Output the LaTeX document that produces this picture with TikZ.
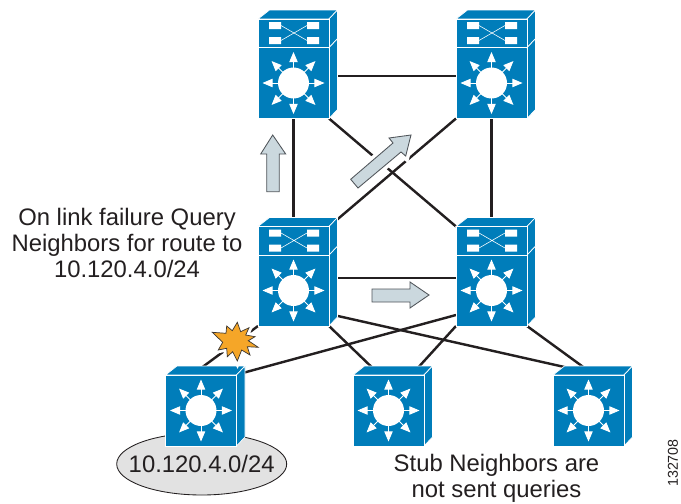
\documentclass[tikz,border=0pt]{standalone}
\usepackage{fontspec}
\setmainfont{Liberation Sans}
\usetikzlibrary{arrows,backgrounds,shapes.geometric}
\tikzset{
  blueface/.style={fill={rgb, 255:red, 0; green, 125; blue, 186 },draw=white,line width=0.5pt},
  frontbox/.style={blueface,rectangle,inner sep=0pt,outer sep=0pt,minimum width=49.7pt},
  iconarrow/.style={draw=white,line width=0.6pt,-triangle 45},
  linkline/.style={draw={rgb, 255:red, 35; green, 31; blue, 32 },line width=1.7pt},
  flowarrow/.style={draw={rgb, 255:red, 80; green, 85; blue, 90 },line width=0.6pt,fill={rgb, 255:red, 203; green, 216; blue, 222 }},
  halo/.style={preaction={draw=white,line width=5.6pt}},
  burst/.style={draw={rgb, 255:red, 60; green, 55; blue, 50 },line width=0.5pt,fill={rgb, 255:red, 245; green, 166; blue, 40 },preaction={draw=white,line width=4.5pt}},
  caption/.style={align=center,text={rgb, 255:red, 35; green, 31; blue, 32 },font=\fontsize{16.7}{18}\selectfont},
  every pic/.style={yscale=-1},
  pics/l3base/.style={code={
    %Top and side faces
    \draw [blueface] (-35.5,-35.5) -- (-24,-44.5) -- (44,-44.5) -- (35.5,-35.5) -- cycle ;
    \draw [blueface] (35.5,-35.5) -- (44,-44.5) -- (44,26.5) -- (35.5,35.5) -- cycle ;
    %Front face
    \node [frontbox,minimum height=49.7pt] (-base) at (0,0) {};
    \fill [white] (0,0) circle [radius=15.5];
    \foreach \ang in {0,45,...,315} \draw [iconarrow] (\ang:14) -- (\ang:31);
  }},
  pics/l3unit/.style={code={
    \draw [blueface] (-35.5,-64) -- (-24,-73) -- (44,-73) -- (35.5,-64) -- cycle ;
    \draw [blueface] (35.5,-64) -- (44,-73) -- (44,-44.5) -- (35.5,-35.5) -- cycle ;
    \node [frontbox,minimum height=19.95pt] (-unit) at (0,-49.75) {};
    \fill [white] (-24.5,-61) rectangle (-12.5,-54) (13.5,-61) rectangle (25.5,-54) (-24.5,-46) rectangle (-12.5,-39) (13.5,-46) rectangle (25.5,-39);
    \draw [white,line width=0.4pt] (-12.5,-57.5) -- (13.5,-42.5) (-12.5,-42.5) -- (13.5,-57.5);
  }}
}
\begin{document}
\begin{tikzpicture}[x=0.70pt,y=0.70pt,yscale=-1,xscale=1]
\useasboundingbox (0,0) rectangle (681,504);

%Shape: Ellipse
\node [ellipse,draw={rgb, 255:red, 35; green, 31; blue, 32 },line width=0.6pt,fill={rgb, 255:red, 226; green, 226; blue, 226 },inner sep=0pt,minimum width=119pt,minimum height=43.4pt] (subnet) at (201.7,464) {};
\node [caption] (subnetlabel) at (subnet) {10.120.4.0/24};

%Switches
\pic (swA) at (293.5,83) {l3base};
\pic (swA) at (293.5,83) {l3unit};
\pic (swB) at (491.5,83) {l3base};
\pic (swB) at (491.5,83) {l3unit};
\pic (swC) at (293.5,290.5) {l3base};
\pic (swC) at (293.5,290.5) {l3unit};
\pic (swD) at (491.5,290.5) {l3base};
\pic (swD) at (491.5,290.5) {l3unit};
\pic (swE) at (201,410.5) {l3base};
\pic (swF) at (388.5,410.5) {l3base};
\pic (swG) at (588.5,410.5) {l3base};

%Straight Lines
\begin{pgfonlayer}{background}
\draw [linkline] ([yshift=-4.9pt]swA-base.east) -- ([yshift=-4.9pt]swB-base.west) ;
\draw [linkline] (swA-base.south) -- (swC-unit.north) ;
\draw [linkline] (swB-base.south) -- (swD-unit.north) ;
\draw [linkline] (swA-base.south east) -- (swD-unit.north west) ;
\draw [linkline] (swB-base.south west) -- (swC-unit.north east) ;
\draw [linkline] ([yshift=-8.75pt]swC-base.east) -- ([yshift=-8.75pt]swD-base.west) ;
\draw [linkline] (swC-base.south west) -- ([xshift=-6.5pt]swE-base.north) ;
\draw [linkline] (swC-base.south east) -- ([xshift=-6pt]swF-base.north) ;
\draw [linkline] ([yshift=-8.4pt]swC-base.south east) -- ([xshift=8pt]swG-base.north) ;
\draw [linkline] ([yshift=-7.7pt]swD-base.south west) -- ([xshift=24pt]swE-base.north) ;
\draw [linkline] (swD-base.south west) -- ([xshift=16pt]swF-base.north) ;
\draw [linkline] (swD-base.south east) -- ([xshift=4pt]swG-base.north) ;
\end{pgfonlayer}

%Shape: Arrows
\draw [flowarrow] (266.7,191.7) -- (266.7,154) -- (260.7,154) -- (272.7,135) -- (285.7,154) -- (279.3,154) -- (279.3,191.7) -- cycle ;
\draw [flowarrow,halo] (411,135) -- (389,138) -- (393,143) -- (350.7,179.3) -- (358,188) -- (401,152) -- (405.7,156) -- cycle ;
\draw [flowarrow] (372,289) -- (410,289) -- (410,282) -- (429,295) -- (410,308) -- (410,302) -- (372,302) -- cycle ;

%Shape: Burst
\draw [burst] (212.3,332.3) -- (226,333.3) -- (226.7,326) -- (232.3,330.7) -- (237.3,322.3) -- (240.7,331.7) -- (249,327.7) -- (245.7,335) -- (255,336.7) -- (248.3,340.7) -- (258.3,347.3) -- (247.3,346.7) -- (250,355) -- (241.7,350) -- (237.3,361) -- (232.7,351.7) -- (227.3,356.7) -- (226.7,348.3) -- (218.3,350) -- (222.7,342.3) -- cycle ;

%Text
\node [caption] (failtext) at (127,243) {On link failure Query\\Neighbors for route to\\10.120.4.0/24};
\node [caption] (stubtext) at (496.5,478) {Stub Neighbors are\\not sent queries};
\node [rotate=90,inner sep=0pt,text={rgb, 255:red, 35; green, 31; blue, 32 },font=\fontsize{10}{12}\selectfont] (figno) at (673,463) {132708};
\end{tikzpicture}
\end{document}
